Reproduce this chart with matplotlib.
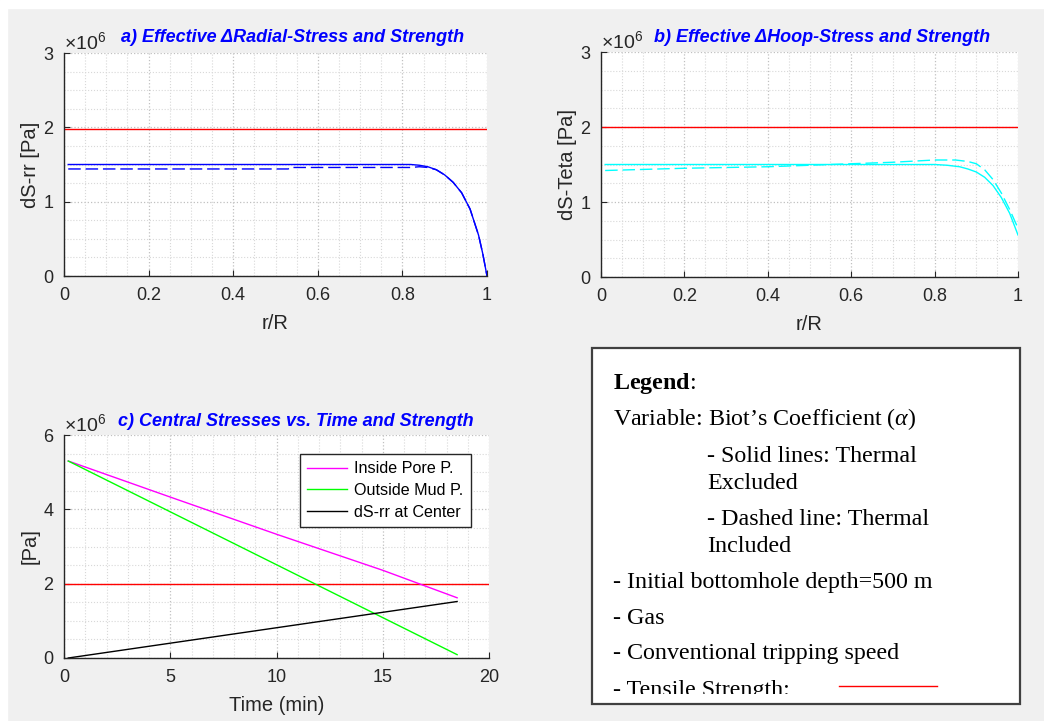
import matplotlib
matplotlib.use("Agg")
import matplotlib.pyplot as plt
from matplotlib.patches import Rectangle
from matplotlib.lines import Line2D
from matplotlib.ticker import MultipleLocator, ScalarFormatter, FuncFormatter

plt.rcParams['font.family'] = ['Liberation Sans', 'DejaVu Sans']
plt.rcParams['mathtext.fontset'] = 'custom'
plt.rcParams['mathtext.rm'] = 'Liberation Sans'
plt.rcParams['mathtext.it'] = 'Liberation Serif:italic'
plt.rcParams['mathtext.bf'] = 'Liberation Serif:bold'

# ---------------- data ----------------
# a) effective radial stress
r_a_solid = [0.01, 0.5, 0.82, 0.84, 0.86, 0.88, 0.90, 0.92, 0.94, 0.96, 0.98, 0.99, 1.0]
s_a_solid = [1.50e6, 1.50e6, 1.50e6, 1.49e6, 1.47e6, 1.43e6, 1.36e6, 1.26e6, 1.12e6, 0.90e6, 0.55e6, 0.30e6, 0.0]
r_a_dash = [0.01, 0.53, 0.535, 0.82, 0.84, 0.86, 0.88, 0.90, 0.92, 0.94, 0.96, 0.98, 0.99, 1.0]
s_a_dash = [1.44e6, 1.44e6, 1.46e6, 1.46e6, 1.47e6, 1.46e6, 1.43e6, 1.36e6, 1.26e6, 1.12e6, 0.90e6, 0.55e6, 0.30e6, 0.0]
strength_a = 1.98e6

# b) effective hoop stress
r_b_solid = [0.01, 0.5, 0.80, 0.83, 0.86, 0.88, 0.90, 0.92, 0.94, 0.96, 0.98, 1.0]
s_b_solid = [1.50e6, 1.50e6, 1.50e6, 1.49e6, 1.47e6, 1.44e6, 1.40e6, 1.33e6, 1.22e6, 1.06e6, 0.85e6, 0.56e6]
r_b_dash = [0.01, 0.2, 0.4, 0.5, 0.6, 0.7, 0.8, 0.85, 0.88, 0.90, 0.92, 0.94, 0.96, 0.98, 1.0]
s_b_dash = [1.42e6, 1.45e6, 1.47e6, 1.49e6, 1.51e6, 1.53e6, 1.56e6, 1.56e6, 1.54e6, 1.51e6, 1.43e6, 1.30e6, 1.12e6, 0.90e6, 0.65e6]
strength_b = 2.0e6

# c) central stresses vs time
t_pore = [0.2, 5, 10, 15, 18.5]
p_pore = [5.30e6, 4.33e6, 3.33e6, 2.36e6, 1.62e6]
t_mud = [0.2, 18.5]
p_mud = [5.30e6, 0.09e6]
t_srr = [0.2, 18.5]
p_srr = [0.0, 1.52e6]
strength_c = 2.0e6
legend_c = ['Inside Pore P.', 'Outside Mud P.', 'dS-rr at Center']

titles = ['a) Effective \u0394Radial-Stress and Strength',
          'b) Effective \u0394Hoop-Stress and Strength',
          'c) Central Stresses vs. Time and Strength']

W, H = 1044, 721
fig = plt.figure(figsize=(W / 100, H / 100), dpi=100)
fig.patch.set_facecolor('#f0f0f0')
# white strips at top and left edges
fig.patches.append(Rectangle((0, 0), 7 / W, 1, transform=fig.transFigure, color='white', zorder=-1))
fig.patches.append(Rectangle((0, 1 - 8 / H), 1, 8 / H, transform=fig.transFigure, color='white', zorder=-1))

AX = '#262626'
TICK_FS = 13
LABEL_FS = 14.5


def box(l, t, r, b):
    return [l / W, (H - b) / H, (r - l) / W, (b - t) / H]


def style(ax, xmaj, xmin, ymaj, ymin, xlim, ylim):
    ax.set_xlim(*xlim)
    ax.set_ylim(*ylim)
    ax.xaxis.set_major_locator(MultipleLocator(xmaj))
    ax.xaxis.set_minor_locator(MultipleLocator(xmin))
    ax.yaxis.set_major_locator(MultipleLocator(ymaj))
    ax.yaxis.set_minor_locator(MultipleLocator(ymin))
    fmt = ScalarFormatter(useMathText=True)
    fmt.set_powerlimits((6, 6))
    ax.yaxis.set_major_formatter(fmt)
    ax.xaxis.set_major_formatter(FuncFormatter(lambda v, p: f'{v:g}'))
    ax.grid(True, which='major', linestyle=':', color='#c0c0c0', linewidth=0.9)
    ax.grid(True, which='minor', linestyle=':', color='#d8d8d8', linewidth=0.8)
    for s in ['top', 'right']:
        ax.spines[s].set_visible(False)
    for s in ['left', 'bottom']:
        ax.spines[s].set_color(AX)
        ax.spines[s].set_linewidth(1.0)
    ax.tick_params(which='major', direction='in', length=4, width=0.8, color=AX,
                   labelcolor=AX, labelsize=TICK_FS)
    ax.tick_params(axis='x', which='major', pad=8)
    ax.tick_params(axis='y', which='major', pad=7)
    ax.tick_params(which='minor', length=0)
    ax.yaxis.get_offset_text().set_fontsize(14)
    ax.yaxis.get_offset_text().set_color(AX)
    ax.set_axisbelow(True)


def labels(ax, xl, yl):
    ax.set_xlabel(xl, fontsize=LABEL_FS, color=AX, labelpad=7)
    ax.set_ylabel(yl, fontsize=LABEL_FS, color=AX, labelpad=2)


# ---- panel a ----
axa = fig.add_axes(box(64, 53, 487, 276))
style(axa, 0.2, 0.05, 1e6, 0.25e6, (0, 1), (0, 3e6))
axa.axhline(strength_a, color='#ff0000', lw=1.0)
axa.plot(r_a_solid, s_a_solid, color='#0000ff', lw=1.0)
axa.plot(r_a_dash, s_a_dash, color='#0000ff', lw=1.0, ls=(0, (9, 3.5)))
labels(axa, 'r/R', 'dS-rr [Pa]')

# ---- panel b ----
axb = fig.add_axes(box(601, 52, 1018, 277))
style(axb, 0.2, 0.05, 1e6, 0.25e6, (0, 1), (0, 3e6))
axb.axhline(strength_b, color='#ff0000', lw=1.0)
axb.plot(r_b_solid, s_b_solid, color='#00ffff', lw=1.0)
axb.plot(r_b_dash, s_b_dash, color='#00ffff', lw=1.0, ls=(0, (9, 3.5)))
labels(axb, 'r/R', 'dS-Teta [Pa]')

# ---- panel c ----
axc = fig.add_axes(box(64, 435, 489, 658))
style(axc, 5, 1, 2e6, 0.5e6, (0, 20), (0, 6e6))
axc.axhline(strength_c, color='#ff0000', lw=1.0)
l1, = axc.plot(t_pore, p_pore, color='#ff00ff', lw=1.0)
l2, = axc.plot(t_mud, p_mud, color='#00ff00', lw=1.0)
l3, = axc.plot(t_srr, p_srr, color='#000000', lw=1.0)
labels(axc, 'Time (min)', '[Pa]')
leg = axc.legend([l1, l2, l3], legend_c, loc='upper right', borderaxespad=0,
                 bbox_to_anchor=(1 - 18 / 425, 1 - 19 / 223), fontsize=11.6,
                 fancybox=False, framealpha=1, edgecolor='#262626',
                 handlelength=2.5, borderpad=0.45, labelspacing=0.42, handletextpad=0.45)
leg.get_frame().set_linewidth(1.0)

# ---- titles ----
for txt, (x, y) in zip(titles, [(293, 38), (822, 38), (296, 422)]):
    fig.text(x / W, 1 - y / H, txt, color='#0000ff', fontsize=13, fontweight='bold',
             fontstyle='italic', ha='center', va='center')

# ---- text legend box ----
rect = Rectangle((592 / W, (H - 704) / H), 428 / W, 356 / H, transform=fig.transFigure,
                 facecolor='white', edgecolor='#404040', linewidth=1.6, zorder=1)
fig.patches.append(rect)
clip = Rectangle((592 / W, (H - 694) / H), 428 / W, 346 / H, transform=fig.transFigure,
                 facecolor='none', edgecolor='none')

serif = ['Liberation Serif', 'DejaVu Serif']
FS = 17.3
lines = [
    (613, 389, '$\\mathbf{Legend}$:'),
    (613, 425, 'Variable: Biot\u2019s Coefficient ($\\alpha$)'),
    (707, 462, '- Solid lines: Thermal'),
    (707, 489, 'Excluded'),
    (707, 525, '- Dashed line: Thermal'),
    (707, 552, 'Included'),
    (613, 588, '- Initial bottomhole depth=500 m'),
    (613, 624, '- Gas'),
    (613, 659, '- Conventional tripping speed'),
    (613, 696, '- Tensile Strength:'),
]
for x, y, s in lines:
    t = fig.text(x / W, 1 - y / H, s, fontfamily=serif, fontsize=FS, va='baseline',
                 ha='left', zorder=2)
    t.set_clip_path(clip)
fig.add_artist(Line2D([839 / W, 937 / W], [1 - 686 / H, 1 - 686 / H],
                      transform=fig.transFigure, color='#ff0000', lw=1.0, zorder=2))

fig.savefig('out.png', dpi=100, facecolor=fig.get_facecolor())
